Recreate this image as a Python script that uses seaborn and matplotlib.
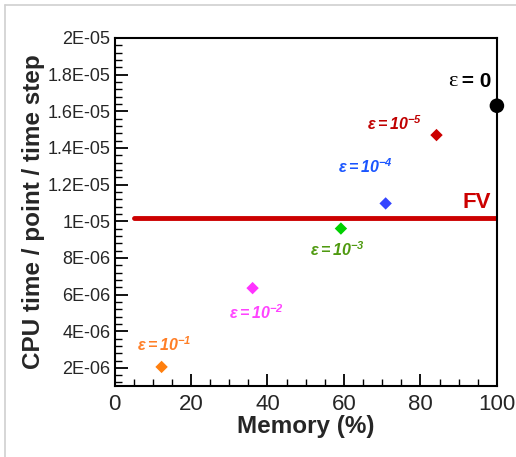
import pandas as pd
import matplotlib.pyplot as plt
import seaborn as sns
from matplotlib.ticker import MultipleLocator
from matplotlib.lines import Line2D

# dati
memory = [12.3, 36.1, 59.2, 70.9, 84.2]
cpu_time = [2.05e-06, 6.35e-06, 9.6e-06, 1.097e-05, 1.47e-05]
eps_exp = ['-1', '-2', '-3', '-4', '-5']
marker_colors = ['#ff7f0e', '#ff33ff', '#00d000', '#3344ff', '#cc0000']
label_colors = ['#ff7f27', '#ff44ff', '#4f9a10', '#1a55ff', '#c00000']

exact_memory = [100]
exact_cpu = [1.63e-05]

fv_level = 1.017e-05
fv_range = [5, 100]

sns.set_style('ticks')
plt.rcParams['font.family'] = ['Liberation Sans', 'DejaVu Sans']
plt.rcParams['mathtext.fontset'] = 'custom'
plt.rcParams['mathtext.rm'] = 'Liberation Sans'
plt.rcParams['mathtext.it'] = 'Liberation Sans:italic'
plt.rcParams['mathtext.bf'] = 'Liberation Sans:bold'
plt.rcParams['mathtext.bfit'] = 'Liberation Sans:italic:bold'

df = pd.DataFrame({'memory': memory, 'cpu': cpu_time, 'eps': eps_exp})

fig = plt.figure(figsize=(5.16, 4.57), dpi=100)
ax = fig.add_axes([0.222, 0.155, 0.741, 0.762])

# linea FV
ax.plot(fv_range, [fv_level, fv_level], color='#cc0000', lw=3.5, zorder=1)

sns.scatterplot(data=df, x='memory', y='cpu', hue='eps', palette=marker_colors,
                marker='D', s=40, edgecolor='none', legend=False, ax=ax, zorder=3)
sns.scatterplot(x=exact_memory, y=exact_cpu, color='black', s=110, edgecolor='none',
                legend=False, ax=ax, zorder=4, clip_on=False)

# etichette
label_pos = [(137, 3.25e-06), (229, 5.0e-06), (310, 8.45e-06), (338, 1.3e-05), (367, 1.53e-05)]
for (px, yv), e, c in zip(label_pos, eps_exp, label_colors):
    xv = (px - 114.5) / 3.825
    ax.text(xv, yv, r'$\mathbfit{\varepsilon = 10^{%s}}$' % e, color=c, fontsize=11.5,
            ha='left', va='center')

ax.text(89.6, 1.76e-05, 'ε', fontsize=16, family='Liberation Serif', color='black',
        ha='right', va='center')
ax.text(98.5, 1.76e-05, ' = 0', fontsize=15, fontweight='bold', color='black',
        ha='right', va='center')
ax.text(98.5, 1.1e-05, 'FV', fontsize=16, fontweight='bold', color='#cc0000',
        ha='right', va='center')

ax.set_xlim(0, 100)
ax.set_ylim(1e-06, 2e-05)
ax.xaxis.set_major_locator(MultipleLocator(20))
ax.xaxis.set_minor_locator(MultipleLocator(5))
ax.yaxis.set_major_locator(MultipleLocator(2e-06))
ax.yaxis.set_minor_locator(MultipleLocator(4e-07))

ylabels = ['2E-06', '4E-06', '6E-06', '8E-06', '1E-05', '1.2E-05', '1.4E-05',
           '1.6E-05', '1.8E-05', '2E-05']
ax.set_yticks([2e-06 * (i + 1) for i in range(10)])
ax.set_yticklabels(ylabels)

ax.tick_params(axis='both', which='major', direction='in', length=9, width=1.3, color='black')
ax.tick_params(axis='both', which='minor', direction='in', length=5, width=1, color='black')
ax.tick_params(axis='x', labelsize=16, pad=6)
ax.tick_params(axis='y', labelsize=13, pad=3)
for sp in ax.spines.values():
    sp.set_linewidth(1.5)
    sp.set_color('black')

ax.set_xlabel('Memory (%)', fontsize=17.5, fontweight='bold', labelpad=0)
ax.set_ylabel('CPU time / point / time step', fontsize=17.5, fontweight='bold', labelpad=2)

# cornice grigia dello screenshot
fig.add_artist(Line2D([0.01, 1.0], [0.989, 0.989], color='#d0d0d0', lw=1.2))
fig.add_artist(Line2D([0.01, 0.01], [0.0, 0.989], color='#d0d0d0', lw=1.2))

fig.savefig('out.png', dpi=100)
